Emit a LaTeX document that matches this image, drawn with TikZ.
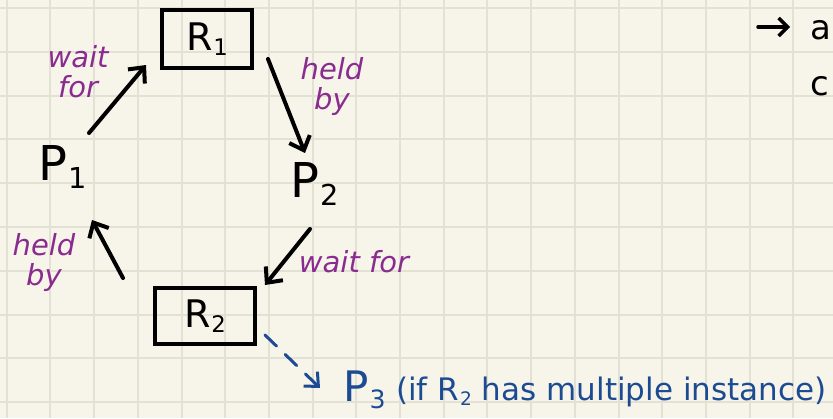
\documentclass[tikz,border=0pt]{standalone}
\usepackage{fontspec}
\setmainfont{DejaVu Sans}
\usetikzlibrary{arrows.meta,calc}
\definecolor{paper}{HTML}{F7F5EA}
\definecolor{gridc}{HTML}{E3E1D4}
\definecolor{penpurple}{HTML}{8A2B8F}
\definecolor{penblue}{HTML}{1C4B94}
\newcommand{\lowsub}[1]{\kern1pt\raisebox{-0.15em}{\scalebox{0.6}{#1}}}
\tikzset{
  gridline/.style={draw=gridc, line width=2pt},
  resbox/.style={draw=black, line width=4pt, inner sep=0pt, font=\fontsize{38}{40}\selectfont},
  proc/.style={inner sep=0pt, font=\fontsize{48}{50}\selectfont},
  lbl/.style={text=penpurple, inner sep=0pt, align=center, font=\fontsize{29}{36}\selectfont\itshape},
  arr/.style={draw=black, line width=4pt, line cap=round, -{Straight Barb[length=12pt,width=22pt,line width=4pt]}},
  darr/.style={draw=penblue, line width=3pt, line cap=round, dash pattern=on 16pt off 12pt, -{Straight Barb[length=11pt,width=20pt,line width=3pt]}},
}
\begin{document}
\begin{tikzpicture}[x=1pt,y=-1pt]
\useasboundingbox (0,0) rectangle (833,418);
\fill[paper] (0,0) rectangle (833,418);
\foreach \i in {0,...,18} \draw[gridline] ({6.7+43.7*\i},0) -- ({6.7+43.7*\i},418);
\foreach \j in {0,...,9} \draw[gridline] (0,{8+43.8*\j}) -- (833,{8+43.8*\j});

% resources
\node[resbox, minimum width=90pt, minimum height=58pt] (R1) at (207,39) {R\lowsub{1}};
\node[resbox, minimum width=100pt, minimum height=56pt] (R2) at (205,316) {R\lowsub{2}};
% processes
\node[proc] (P1) at (63,167) {P\lowsub{1}};
\node[proc] (P2) at (315,184) {P\lowsub{2}};
\node[proc, text=penblue, font=\fontsize{42}{44}\selectfont, anchor=west] (P3) at (343,390) {P\lowsub{3}};
\node[text=penblue, inner sep=0pt, anchor=west, font=\fontsize{31}{33}\selectfont] (note) at (396,392) {(if R\lowsub{2} has multiple instance)};

% edges
\draw[arr] ($(P1)+(26,-34)$) -- ($(R1)+(-61,26)$);
\draw[arr] ($(R1)+(61,20)$) -- ($(P2)+(-10,-31)$);
\draw[arr] ($(P2)+(-5,45)$) -- ($(R2)+(60,-31)$);
\draw[arr] ($(R2)+(-82,-38)$) -- ($(P1)+(29,53)$);
\draw[darr] ($(R2)+(60,19)$) -- ($(P3.west)+(-23,-2)$);

% labels
\node[lbl] (w1) at (78,72) {wait\\[-6pt]for};
\node[lbl] (h1) at (332,86) {held\\[-6pt]by};
\node[lbl] (h2) at (44,262) {held\\[-6pt]by};
\node[lbl] (w2) at (354,262) {wait for};

% note at right edge
\coordinate (ca) at (758,27);
\coordinate (cb) at (790,27);
\draw[line width=3.5pt, line cap=round, -{Straight Barb[length=9pt,width=18pt,line width=3.5pt]}] (ca) -- (cb);
\node[inner sep=0pt, anchor=west, font=\fontsize{34}{36}\selectfont] (ta) at (810,30) {a};
\node[inner sep=0pt, anchor=west, font=\fontsize{34}{36}\selectfont] (tc) at (810,86) {c};
\end{tikzpicture}
\end{document}
